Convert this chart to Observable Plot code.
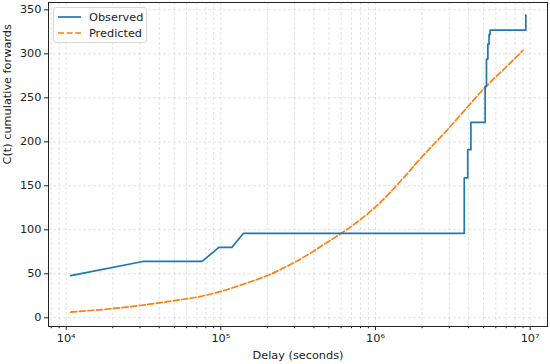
<!DOCTYPE html>
<html>
<head>
<meta charset="utf-8">
<script src="https://cdn.jsdelivr.net/npm/d3@7"></script>
<script src="https://cdn.jsdelivr.net/npm/@observablehq/plot@0.6"></script>
<style>
  html, body { margin: 0; padding: 0; background: #fff; }
  #wrap { position: relative; width: 550px; height: 364px; font-family: "DejaVu Sans", sans-serif; }
  #legend { position: absolute; left: 53px; top: 7px; width: 94px; height: 36px; background: rgba(255,255,255,0.85);
    border: 1px solid #d6d6d6; border-radius: 3px; box-sizing: border-box; font-size: 11.3px; color: #222; }
  .row { position: absolute; left: 3px; height: 14px; display: flex; align-items: center; }
  .row span { margin-left: 8px; }
</style>
</head>
<body>
<div id="wrap"></div>
<script>
// Observed cumulative forwards
const obsDelay = [1.07e4, 3.13e4, 7.57e4, 9.7e4, 1.18e5, 1.40e5, 3.75e6, 3.75e6, 3.95e6, 3.95e6, 4.14e6, 4.14e6,
                  5.12e6, 5.12e6, 5.22e6, 5.22e6, 5.33e6, 5.33e6, 5.43e6, 5.43e6, 5.51e6, 5.51e6, 9.38e6, 9.38e6];
const obsCount = [48, 64, 64, 80, 80, 96, 96, 159, 159, 191, 191, 222,
                  222, 263, 263, 294, 294, 311, 311, 322, 322, 327, 327, 344];
// Predicted cumulative forwards
const predDelay = [1.07e4, 2e4, 3e4, 5e4, 7.5e4, 1e5, 1.5e5, 2e5, 3e5, 5e5, 7e5, 1e6, 1.5e6, 2e6, 3e6, 4e6, 5e6, 7e6, 9e6];
const predCount = [6.5, 10.5, 14, 19.5, 24.5, 30, 40, 48, 63, 87, 104, 126, 158, 183, 216, 241, 260, 285, 304];
// Axis ticks
const xMajorTicks = [1e4, 1e5, 1e6, 1e7];
const xMinorTicks = [8e3, 9e3,
  2e4, 3e4, 4e4, 5e4, 6e4, 7e4, 8e4, 9e4,
  2e5, 3e5, 4e5, 5e5, 6e5, 7e5, 8e5, 9e5,
  2e6, 3e6, 4e6, 5e6, 6e6, 7e6, 8e6, 9e6];
const yTicks = [0, 50, 100, 150, 200, 250, 300, 350];
const xLabel = "Delay (seconds)";
const yLabel = "C(t) cumulative forwards";
const seriesNames = ["Observed", "Predicted"];
const seriesColors = ["#1f77b4", "#ff7f0e"];

const observed = obsDelay.map((d, i) => ({delay: d, count: obsCount[i]}));
const predicted = predDelay.map((d, i) => ({delay: d, count: predCount[i]}));
const sup = {"0":"⁰","1":"¹","2":"²","3":"³","4":"⁴","5":"⁵","6":"⁶","7":"⁷","8":"⁸","9":"⁹"};
const fmtPow = d => "10" + String(Math.round(Math.log10(d))).split("").map(c => sup[c]).join("");

const gridStyle = {stroke: "#b0b0b0", strokeOpacity: 0.45, strokeWidth: 0.8, strokeDasharray: "3,2"};

const chart = Plot.plot({
  width: 550,
  height: 364,
  marginLeft: 48,
  marginRight: 3,
  marginTop: 2,
  marginBottom: 38,
  style: {fontFamily: "DejaVu Sans, sans-serif", fontSize: "11.3px", color: "#222", background: "#fff"},
  x: {type: "log", domain: [Math.pow(10, 3.8856), Math.pow(10, 7.1124)]},
  y: {domain: [-9.9, 358.3]},
  marks: [
    Plot.gridX(xMinorTicks, gridStyle),
    Plot.gridX(xMajorTicks, gridStyle),
    Plot.gridY(yTicks, gridStyle),
    Plot.axisX(xMajorTicks, {tickFormat: fmtPow, tickSize: 4, tickPadding: 3, label: null, stroke: "#222", fontSize: 11.3}),
    Plot.axisX(xMinorTicks, {tickFormat: () => "", tickSize: 2.2, label: null, stroke: "#222"}),
    Plot.axisY(yTicks, {tickSize: 4, tickPadding: 3, label: null, stroke: "#222", fontSize: 11.3}),
    Plot.line(predicted, {x: "delay", y: "count", stroke: seriesColors[1], strokeWidth: 1.7, strokeDasharray: "6,2.6", curve: "monotone-x"}),
    Plot.line(observed, {x: "delay", y: "count", stroke: seriesColors[0], strokeWidth: 1.7}),
    Plot.frame({stroke: "#222", strokeWidth: 1}),
    Plot.text([xLabel], {frameAnchor: "bottom", dy: 29, lineAnchor: "middle", fontSize: 11.3, fill: "#222"}),
    Plot.text([yLabel], {frameAnchor: "left", dx: -41, rotate: -90, lineAnchor: "middle", fontSize: 11.3, fill: "#222"})
  ]
});
const wrap = document.getElementById("wrap");
wrap.appendChild(chart);

const legend = document.createElement("div");
legend.id = "legend";
seriesNames.forEach((name, i) => {
  const row = document.createElement("div");
  row.className = "row";
  row.style.top = (i === 0 ? 2 : 18) + "px";
  const dash = i === 1 ? 'stroke-dasharray="6,2.6"' : "";
  row.innerHTML = `<svg width="24" height="6"><line x1="1" x2="24" y1="3" y2="3" stroke="${seriesColors[i]}" stroke-width="1.7" ${dash}/></svg><span>${name}</span>`;
  legend.appendChild(row);
});
wrap.appendChild(legend);
</script>
</body>
</html>
